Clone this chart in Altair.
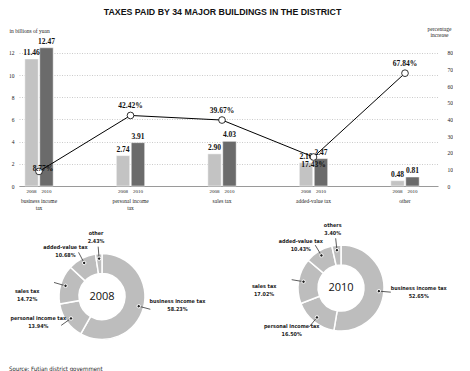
import altair as alt
import numpy as np
import pandas as pd

# ---------------- data ----------------
categories = ["business income tax", "personal income tax", "sales tax", "added-value tax", "other"]
axis_lines = [["business income", "tax"], ["personal income", "tax"], ["sales tax"], ["added-value tax"], ["other"]]
years = ["2008", "2010"]
values_2008 = [11.46, 2.74, 2.90, 2.10, 0.48]
values_2010 = [12.47, 3.91, 4.03, 2.47, 0.81]
pct_increase = [8.77, 42.42, 39.67, 17.43, 67.84]

pie_names_2008 = ["business income tax", "personal income tax", "sales tax", "added-value tax", "other"]
pie_share_2008 = [58.23, 13.94, 14.72, 10.68, 2.43]
pie_names_2010 = ["business income tax", "personal income tax", "sales tax", "added-value tax", "others"]
pie_share_2010 = [52.65, 16.50, 17.02, 10.43, 3.40]

# ---------------- styles ----------------
NARROW = "Liberation Sans Narrow, DejaVu Sans Condensed, Liberation Sans, sans-serif"
TITLE_FONT = "Liberation Sans, sans-serif"
SERIF = "Liberation Serif, DejaVu Serif, serif"
LIGHT = "#c3c3c3"
DARK = "#6b6b6b"
PIE = "#bdbdbd"

bars_df = pd.DataFrame(
    [{"category": c, "year": "2008", "value": v} for c, v in zip(categories, values_2008)]
    + [{"category": c, "year": "2010", "value": v} for c, v in zip(categories, values_2010)]
)
pct_df = pd.DataFrame({"category": categories, "pct": pct_increase})
pct_df["label"] = [f"{p:.2f}%" for p in pct_increase]
pct_df["place"] = ["on", "above", "above", "below", "above"]

label_expr = " : ".join(
    f"datum.label == '{c}' ? {lines}" for c, lines in zip(categories, axis_lines)
) + " : datum.label"

xscale = alt.Scale(domain=categories, paddingInner=0.69, paddingOuter=0.1346, align=0.236)
x_axis = alt.Axis(labelExpr=label_expr, labelAngle=0, ticks=False, tickSize=0, labelPadding=12,
                  labelFont=SERIF, labelFontSize=5.5, labelColor="#222", labelLineHeight=7,
                  labelBaseline="top", domainColor="#9a9a9a", domainWidth=1.2, grid=False,
                  title=None)
x_enc = alt.X("category:N", scale=xscale, sort=categories, axis=x_axis)

y_left = alt.Scale(domain=[0, 12.9], nice=False)
y_right = alt.Scale(domain=[0, 86], nice=False)
left_axis = alt.Axis(values=[0, 2, 4, 6, 8, 10, 12], ticks=False, tickSize=0, domain=False,
                     labelPadding=5, labelFont=SERIF, labelFontSize=5.5, labelColor="#222",
                     labelOverlap=False,
                     grid=True, gridDash=[1, 1.5], gridColor="#a8a8a8", gridWidth=0.6,
                     title="in billions of yuan", titleAngle=0, titleAlign="left",
                     titleBaseline="alphabetic", titleX=-10, titleY=-11, titleFont=SERIF,
                     titleFontSize=5.5, titleFontWeight="normal", titleColor="#222")
right_axis = alt.Axis(orient="right", values=list(range(0, 81, 10)), ticks=False, tickSize=0,
                      domain=False, grid=False, labelPadding=9, labelFont=SERIF,
                      labelFontSize=5.5, labelColor="#222", labelOverlap=False,
                      title=["percentage", "increase"], titleAngle=0, titleAlign="center",
                      titleBaseline="alphabetic", titleX=1, titleY=-13, titleFont=SERIF,
                      titleFontSize=5.5, titleFontWeight="normal", titleColor="#222",
                      titleLineHeight=6)

base_bar = alt.Chart(bars_df).encode(
    x=x_enc,
    xOffset=alt.XOffset("year:N", sort=years, scale=alt.Scale(paddingInner=0.1)),
)
bars = base_bar.mark_bar(stroke="white", strokeWidth=0.5).encode(
    y=alt.Y("value:Q", scale=y_left, axis=left_axis),
    color=alt.Color("year:N", scale=alt.Scale(domain=years, range=[LIGHT, DARK]), legend=None),
)
bar_text = base_bar.mark_text(baseline="bottom", dy=-2, font=SERIF, fontWeight="bold",
                              fontSize=7.5, color="#111").encode(
    y=alt.Y("value:Q", scale=y_left, axis=left_axis), text=alt.Text("value:Q", format=".2f"))
year_text = base_bar.mark_text(baseline="top", dy=3, font=SERIF, fontSize=5,
                               color="#222").encode(
    y=alt.YDatum(0, scale=y_left, axis=left_axis), text="year:N")

line_base = alt.Chart(pct_df).encode(
    x=x_enc,
    y=alt.Y("pct:Q", scale=y_right, axis=right_axis),
)
line = line_base.mark_line(color="black", strokeWidth=1)
points = line_base.mark_point(filled=True, fill="white", stroke="black", strokeWidth=0.8,
                              size=45, opacity=1)
pct_above = line_base.mark_text(baseline="bottom", dy=-5, font=SERIF, fontWeight="bold",
                                fontSize=7.5, color="#111").encode(text="label:N").transform_filter(
    alt.datum.place == "above")
pct_below = line_base.mark_text(baseline="top", dy=4, font=SERIF, fontWeight="bold",
                                fontSize=7.5, color="#111").encode(text="label:N").transform_filter(
    alt.datum.place == "below")
pct_on = line_base.mark_text(baseline="middle", dx=4, dy=-2, font=SERIF, fontWeight="bold",
                             fontSize=7.5, color="#111").encode(text="label:N").transform_filter(
    alt.datum.place == "on")

top = alt.layer(
    alt.layer(bars, bar_text, year_text),
    alt.layer(line, points, pct_above, pct_below, pct_on),
).resolve_scale(y="independent").properties(width=419, height=143)

# ---------------- donuts ----------------
R_OUT, R_IN, R_DOT, R_LEAD = 43, 23, 38, 50
LAB_A, LAB_B = 78, 64


def donut(names, shares, year, xdom, ydom, w, h):
    shares_a = np.array(shares, dtype=float)
    cum = np.cumsum(shares_a)
    ang = (cum - shares_a / 2) / 100 * 2 * np.pi
    df = pd.DataFrame({"name": names, "share": shares, "idx": range(len(names))})
    s, c = np.sin(ang), np.cos(ang)
    df["dx"], df["dy"] = R_DOT * s, R_DOT * c
    df["lx"], df["ly"] = R_LEAD * s, R_LEAD * c
    df["tx"], df["ty"] = LAB_A * s, LAB_B * c * np.abs(c)
    df["label"] = [f"{n}\n{v:.2f}%" for n, v in zip(names, shares)]
    xs = alt.Scale(domain=xdom, nice=False, zero=False)
    ys = alt.Scale(domain=ydom, nice=False, zero=False)
    base = alt.Chart(df)
    arc = base.mark_arc(outerRadius=R_OUT, innerRadius=R_IN, stroke="white", strokeWidth=1.5,
                        color=PIE).encode(
        theta=alt.Theta("share:Q", stack=True),
        order=alt.Order("idx:Q"),
        x=alt.XDatum(0, type="quantitative", scale=xs, axis=None),
        y=alt.YDatum(0, type="quantitative", scale=ys, axis=None),
    )
    leads = base.mark_rule(color="#333", strokeWidth=0.8).encode(
        x=alt.X("dx:Q", scale=xs, axis=None), y=alt.Y("dy:Q", scale=ys, axis=None),
        x2="lx:Q", y2="ly:Q")
    dots = base.mark_circle(size=12, color="#222", stroke="white", strokeWidth=1,
                            opacity=1).encode(
        x=alt.X("dx:Q", scale=xs, axis=None), y=alt.Y("dy:Q", scale=ys, axis=None))
    labels = base.mark_text(align="center", baseline="middle", lineBreak="\n", font=NARROW,
                            fontWeight="bold", fontSize=5.4, lineHeight=8, color="#222").encode(
        x=alt.X("tx:Q", scale=xs, axis=None), y=alt.Y("ty:Q", scale=ys, axis=None),
        text="label:N")
    center = base.mark_text(font="Open Sans, Noto Sans, sans-serif", fontSize=11,
                            color="#111").encode(
        x=alt.XDatum(0, type="quantitative", scale=xs, axis=None),
        y=alt.YDatum(0, type="quantitative", scale=ys, axis=None),
        text=alt.value(year)).transform_filter(alt.datum.idx == 0)
    return alt.layer(arc, leads, dots, labels, center).properties(width=w, height=h)


d08 = donut(pie_names_2008, pie_share_2008, "2008", [-83, 117], [-67.5, 72.5], 200, 140)
d10 = donut(pie_names_2010, pie_share_2010, "2010", [-102, 97], [-76, 64], 199, 140)

row = alt.hconcat(d08, d10, spacing=20, bounds="flush").properties(
    title=alt.TitleParams("Source: Futian district government", orient="bottom", anchor="start",
                          frame="group", dx=-10, offset=2, font=NARROW, fontSize=6,
                          fontWeight="normal", color="#222"))

chart = alt.vconcat(top, row, spacing=38, bounds="flush").properties(
    title=alt.TitleParams("TAXES PAID BY 34 MAJOR BUILDINGS IN THE DISTRICT", anchor="middle",
                          font=TITLE_FONT, fontSize=8.8, fontWeight="bold", color="#111",
                          offset=9, dx=-8),
    padding=0,
).configure_view(stroke=None)

chart.save("out.html", embed_options={"renderer": "svg", "actions": False})
